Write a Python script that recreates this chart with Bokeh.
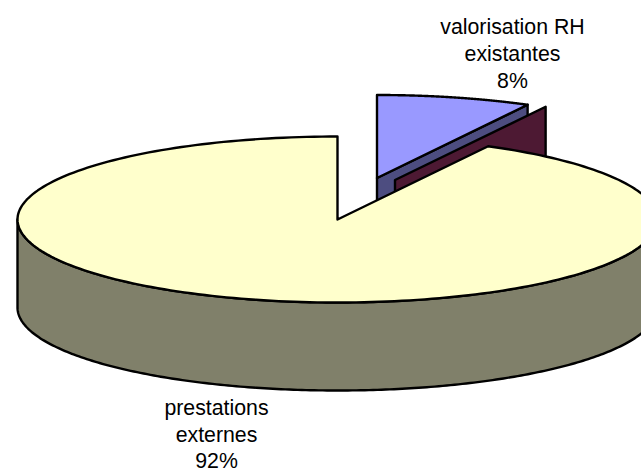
import math
import numpy as np
from bokeh.plotting import figure
from bokeh.models import Range1d
from bokeh.core.properties import value
from bokeh.embed import file_html
from bokeh.resources import INLINE

categories = ["valorisation RH existantes", "zero", "prestations externes"]
shares = [7.8, 0.0, 92.2]
top_colors = ["#9999FF", "#993366", "#FFFFCC"]
side_colors = ["#4D4D80", "#4D1933", "#80806A"]
label_lines_a = ["valorisation RH", "existantes", "8%"]
label_lines_b = ["prestations", "externes", "92%"]

W, H = 641, 471
RX, RY, DEPTH = 320, 83, 88
centers = [(376.5, 177.5), (394.5, 179.5), (337.0, 219.0)]

p = figure(width=W, height=H, output_backend="svg", toolbar_location=None,
           x_range=Range1d(0, W), y_range=Range1d(H, 0),
           min_border=0, outline_line_color=None)
p.axis.visible = False
p.grid.visible = False

def rim(cx, cy, a0, a1, n=240):
    t = np.radians(np.linspace(a0, a1, n))
    return cx + RX * np.sin(t), cy - RY * np.cos(t)

LW = 2.4
split = shares[0] / 100 * 360

def poly(xs, ys, fill):
    p.patch(list(xs), list(ys), fill_color=fill, line_color="black", line_width=LW, line_join="round")

def cut_face(c, ang, fill):
    ex, ey = rim(c[0], c[1], ang, ang, 1)
    poly([c[0], ex[0], ex[0], c[0]], [c[1], ey[0], ey[0] + DEPTH, c[1] + DEPTH], fill)

# purple slice: cut face, then top
cut_face(centers[0], split, side_colors[0])
x, y = rim(centers[0][0], centers[0][1], 0, split)
poly(np.r_[centers[0][0], x], np.r_[centers[0][1], y], top_colors[0])
# zero-size maroon slice: only its cut face shows
cut_face(centers[1], split, side_colors[1])
# large slice: outer wall, then top
cx, cy = centers[2]
x, y = rim(cx, cy, 90, 270)
poly(np.r_[x, x[::-1]], np.r_[y, y[::-1] + DEPTH], side_colors[2])
x, y = rim(cx, cy, split, 360)
poly(np.r_[cx, x], np.r_[cy, y], top_colors[2])

def labels(lines, xc, ys):
    p.text([xc] * len(lines), ys, text=lines, text_align="center", text_baseline="alphabetic",
           text_font=value("Liberation Sans"), text_font_size="21.3px", text_color="black")

labels(label_lines_a, 512, [26, 53, 80])
labels(label_lines_b, 216, [407, 434, 460])

open("out.html", "w").write(file_html(p, INLINE))
